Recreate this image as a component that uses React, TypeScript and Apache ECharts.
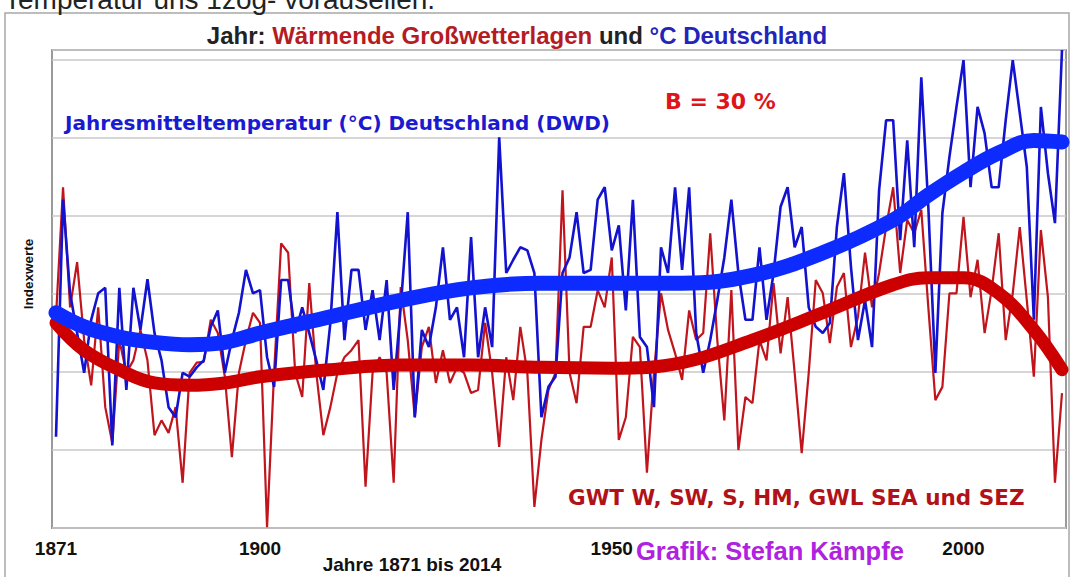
import React, { useEffect, useRef } from "react";
import * as echarts from "echarts";

const startYear = 1871;

// Jahresmitteltemperatur Deutschland (index units, 10 per gridline)
const blueTemp = [
  11.7, 42.1, 30.1, 25.0, 19.9, 26.7, 30.1, 30.8, 10.6, 30.8,
  17.7, 30.8, 25.4, 31.9, 25.0, 21.5, 15.5, 14.2, 19.9, 19.4,
  20.6, 21.5, 25.8, 27.9, 19.9, 24.1, 27.6, 33.1, 30.1, 30.5,
  21.9, 18.1, 31.8, 31.8, 25.0, 28.3, 25.0, 21.5, 17.7, 26.3,
  40.5, 24.1, 33.1, 33.1, 25.4, 30.5, 24.1, 31.8, 17.7, 28.3,
  40.5, 14.2, 25.4, 23.2, 28.3, 36.0, 26.7, 28.3, 21.9, 37.3,
  21.9, 28.3, 23.2, 50.1, 32.7, 34.4, 36.0, 35.6, 32.7, 14.2,
  18.1, 19.4, 32.7, 34.7, 40.5, 32.7, 33.1, 42.1, 43.7, 35.6,
  38.8, 27.9, 42.1, 24.5, 23.2, 15.5, 36.0, 32.7, 43.7, 33.1,
  43.7, 25.0, 19.9, 24.1, 29.2, 34.7, 42.1, 32.7, 26.7, 26.7,
  36.0, 26.7, 32.7, 41.2, 43.7, 36.0, 38.6, 28.3, 25.8, 25.0,
  26.3, 38.6, 45.5, 33.5, 24.1, 29.2, 23.2, 43.3, 52.3, 52.3,
  36.9, 49.7, 36.0, 57.8, 41.2, 19.9, 40.4, 47.6, 54.0, 60.0,
  43.7, 54.0, 50.6, 43.7, 43.7, 52.3, 60.0, 53.2, 46.3, 26.7,
  54.0, 45.5, 39.1, 61.3,
];

// Wärmende Großwetterlagen (index units)
const redGwl = [
  27.1, 43.7, 28.3, 34.1, 24.1, 18.3, 28.3, 15.5, 10.9, 24.1,
  19.9, 21.5, 25.4, 21.5, 11.9, 13.8, 12.2, 15.5, 5.8, 19.9,
  21.2, 21.3, 26.7, 25.0, 19.4, 9.1, 19.9, 24.1, 27.6, 26.3,
  0.1, 19.9, 36.5, 35.3, 19.9, 16.8, 31.4, 19.9, 11.9, 15.5,
  19.9, 21.9, 22.8, 24.1, 5.3, 19.9, 21.9, 19.9, 5.8, 30.9,
  24.1, 14.2, 23.2, 25.8, 18.6, 22.8, 18.6, 20.6, 19.9, 17.3,
  17.7, 26.3, 19.9, 10.4, 21.9, 16.4, 25.8, 19.9, 2.7, 11.3,
  17.7, 19.9, 43.3, 19.9, 16.0, 25.8, 25.8, 30.5, 28.3, 34.7,
  11.3, 14.2, 24.5, 23.2, 7.1, 19.9, 30.1, 25.4, 22.4, 19.0,
  27.9, 24.1, 25.0, 37.8, 24.1, 13.8, 30.5, 10.0, 16.8, 16.0,
  24.1, 21.5, 31.4, 22.4, 29.6, 19.9, 9.6, 19.9, 31.8, 30.1,
  23.7, 30.9, 32.7, 23.2, 27.1, 35.3, 28.3, 32.7, 38.6, 43.7,
  32.7, 39.5, 37.8, 40.8, 28.3, 16.4, 18.1, 30.1, 30.1, 39.9,
  29.6, 34.4, 25.0, 30.5, 37.8, 24.1, 30.1, 38.6, 29.2, 19.4,
  38.2, 29.6, 5.8, 17.3,
];

// Polynomial trend lines, read at selected years
const trendYears = [1871, 1875, 1880, 1885, 1890, 1895, 1900, 1910, 1920, 1930, 1940, 1950, 1960, 1970, 1980, 1990, 1995, 2000, 2005, 2010, 2014];
const blueTrend = [27.6, 25.8, 24.5, 23.8, 23.5, 23.8, 25.0, 27.1, 29.2, 30.8, 31.4, 31.4, 31.4, 32.4, 35.3, 39.5, 42.7, 45.6, 48.1, 49.7, 49.5];
const redTrend = [26.3, 22.8, 20.3, 18.6, 18.3, 18.6, 19.4, 20.3, 20.9, 20.9, 20.6, 20.5, 21.2, 24.1, 27.6, 31.2, 32.1, 32.1, 30.1, 25.4, 20.3];

const xTickYears = [1871, 1900, 1950, 2000];

const SANS = "'Liberation Sans', Arial, sans-serif";
const WIDE = "'DejaVu Sans', Verdana, sans-serif";

export default function App() {
  const ref = useRef<HTMLDivElement>(null);

  useEffect(() => {
    const chart = echarts.init(ref.current!, null, { renderer: "svg" });
    const years = blueTemp.map((_, i) => startYear + i);

    chart.setOption({
      animation: false,
      backgroundColor: "#ffffff",
      grid: {
        left: 52,
        right: 8,
        top: 50,
        bottom: 49,
        show: true,
        borderColor: "#9a9a9a",
        borderWidth: 2,
        backgroundColor: "#ffffff",
      },
      xAxis: {
        type: "value",
        min: 1870.43,
        max: 2014.57,
        splitLine: { show: false },
        axisLine: { show: false },
        axisTick: { show: false },
        axisLabel: {
          customValues: xTickYears,
          formatter: (v: number) => String(Math.round(v)),
          fontSize: 19,
          fontWeight: "bold",
          color: "#111",
          fontFamily: SANS,
          margin: 11,
        },
      },
      yAxis: {
        type: "value",
        min: 0,
        max: 61.3,
        interval: 10,
        axisLabel: { show: false },
        axisLine: { show: false },
        axisTick: { show: false },
        splitLine: { lineStyle: { color: "#c9c9c9", width: 1.5 } },
      },
      series: [
        {
          name: "GWL",
          type: "line",
          data: years.map((y, i) => [y, redGwl[i]]),
          showSymbol: false,
          lineStyle: { color: "#c0151d", width: 2.2 },
        },
        {
          name: "Temperatur",
          type: "line",
          data: years.map((y, i) => [y, blueTemp[i]]),
          showSymbol: false,
          lineStyle: { color: "#1212cf", width: 2.6 },
        },
        {
          name: "Trend GWL",
          type: "line",
          data: trendYears.map((y, i) => [y, redTrend[i]]),
          showSymbol: false,
          smooth: 0.4,
          lineStyle: { color: "#cc0000", width: 13, cap: "round" },
        },
        {
          name: "Trend Temperatur",
          type: "line",
          data: trendYears.map((y, i) => [y, blueTrend[i]]),
          showSymbol: false,
          smooth: 0.4,
          lineStyle: { color: "#0d2bff", width: 15, cap: "round" },
        },
      ],
      graphic: [
        {
          type: "rect",
          shape: { x: 5, y: 13, width: 1064, height: 600 },
          style: { fill: "none", stroke: "#a8a8a8", lineWidth: 1.5 },
          silent: true,
        },
        {
          type: "text",
          x: 4,
          y: -15,
          style: {
            text: "Temperatur uns 1zog- vorauseilen.",
            fontSize: 28,
            fontFamily: SANS,
            fill: "#222",
            align: "left",
            verticalAlign: "top",
          },
        },
        {
          type: "text",
          x: 517,
          y: 35,
          style: {
            text: "{k|Jahr: }{r|Wärmende Großwetterlagen}{k| und }{b|°C Deutschland}",
            align: "center",
            verticalAlign: "middle",
            rich: {
              k: { fontSize: 24, fontWeight: "bold", fontFamily: SANS, fill: "#222" },
              r: { fontSize: 24, fontWeight: "bold", fontFamily: SANS, fill: "#b51c22" },
              b: { fontSize: 24, fontWeight: "bold", fontFamily: SANS, fill: "#2424b8" },
            },
          },
        },
        {
          type: "text",
          x: 65,
          y: 123,
          style: {
            text: "Jahresmitteltemperatur (°C) Deutschland (DWD)",
            fontSize: 20,
            fontWeight: "bold",
            fontFamily: WIDE,
            fill: "#1a1ad0",
            align: "left",
            verticalAlign: "middle",
          },
        },
        {
          type: "text",
          x: 665,
          y: 101,
          style: {
            text: "B = 30 %",
            fontSize: 22,
            fontWeight: "bold",
            fontFamily: WIDE,
            fill: "#e0141a",
            align: "left",
            verticalAlign: "middle",
          },
        },
        {
          type: "text",
          x: 568,
          y: 497,
          style: {
            text: "GWT W, SW, S, HM, GWL SEA und SEZ",
            fontSize: 21.5,
            fontWeight: "bold",
            fontFamily: WIDE,
            fill: "#b01218",
            align: "left",
            verticalAlign: "middle",
          },
        },
        {
          type: "text",
          x: 636,
          y: 551,
          style: {
            text: "Grafik: Stefan Kämpfe",
            fontSize: 25.5,
            fontWeight: "bold",
            fontFamily: SANS,
            fill: "#b021e0",
            align: "left",
            verticalAlign: "middle",
          },
        },
        {
          type: "text",
          x: 412,
          y: 564,
          style: {
            text: "Jahre 1871 bis 2014",
            fontSize: 19,
            fontWeight: "bold",
            fontFamily: SANS,
            fill: "#111",
            align: "center",
            verticalAlign: "middle",
          },
        },
        {
          type: "text",
          x: 28,
          y: 274,
          rotation: Math.PI / 2,
          style: {
            text: "Indexwerte",
            fontSize: 13.5,
            fontWeight: "bold",
            fontFamily: SANS,
            fill: "#111",
            align: "center",
            verticalAlign: "middle",
          },
        },
      ],
    });

    return () => chart.dispose();
  }, []);

  return (
    <div
      ref={ref}
      style={{ position: "absolute", left: 0, top: 0, width: 1074, height: 577, background: "#fff" }}
    />
  );
}
